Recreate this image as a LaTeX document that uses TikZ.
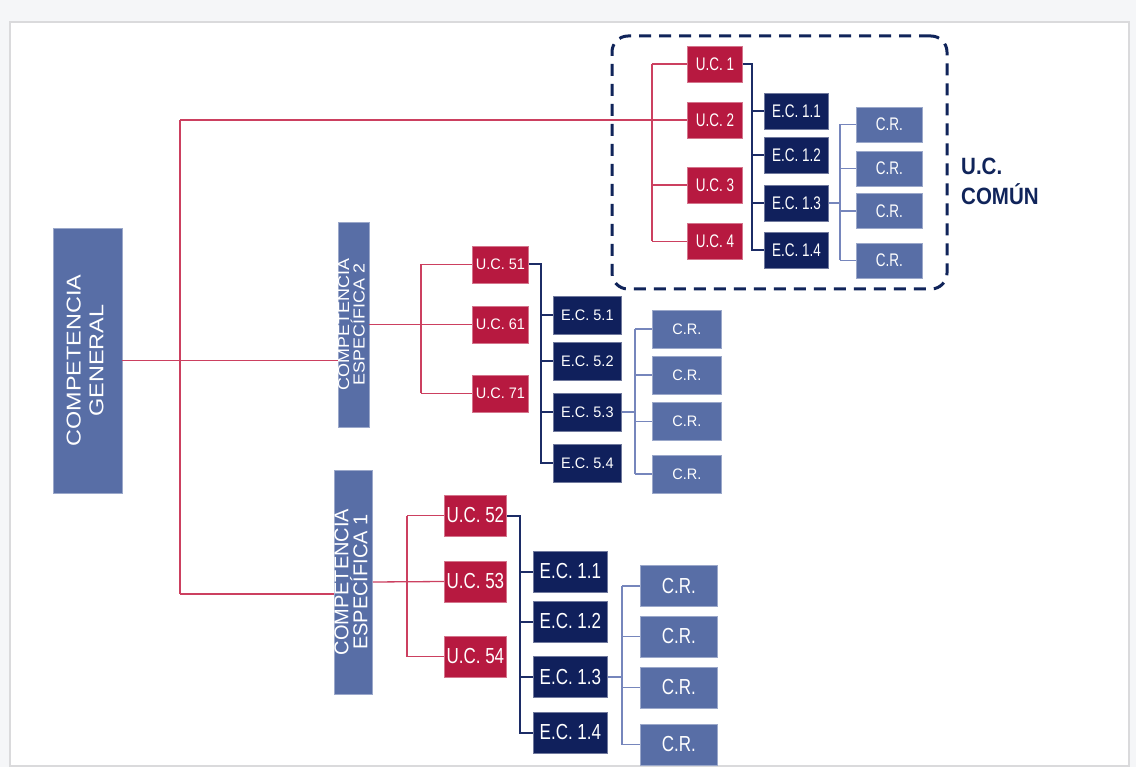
\documentclass[tikz,border=0pt]{standalone}
\usepackage{fontspec}
\setmainfont{Liberation Sans}
\usepackage{graphicx}
\usepackage{tikz}
\usetikzlibrary{positioning,calc}
\definecolor{ucred}{RGB}{183,25,64}
\definecolor{ecnavy}{RGB}{16,32,92}
\definecolor{crblue}{RGB}{88,110,166}
\definecolor{redln}{RGB}{204,64,96}
\definecolor{navyln}{RGB}{28,44,102}
\definecolor{lightln}{RGB}{118,134,188}
\definecolor{dashcol}{RGB}{16,36,90}
\definecolor{pagebg}{RGB}{245,246,248}
\definecolor{framecol}{RGB}{218,218,220}
% stretched labels
\newcommand{\txtv}[2]{\scalebox{1}[#1]{#2}}
\newcommand{\txth}[2]{\scalebox{#1}[1]{#2}}
\newcommand{\pairln}[2]{\begin{tabular}{@{}c@{}}#1\\#2\end{tabular}}

\begin{document}
\begin{tikzpicture}[x=1pt, y=-1pt,
  blk/.style={rectangle, fill=#1, draw=#1!60!white, line width=0.8pt,
              text=white, inner sep=0pt, align=center},
  uc/.style={blk=ucred, anchor=west},
  ec/.style={blk=ecnavy, anchor=west},
  cr/.style={blk=crblue, anchor=west},
  comp/.style={blk=crblue, rotate=90},
  topset/.style={font=\fontsize{13.5}{16}\selectfont, minimum height=36pt},
  midset/.style={font=\fontsize{14.5}{17}\selectfont, minimum height=37pt},
  lowset/.style={font=\fontsize{17}{19}\selectfont, minimum height=41pt},
  rl/.style={draw=redln, line width=1.3pt},
  nl/.style={draw=navyln, line width=2pt},
  ll/.style={draw=lightln, line width=1.5pt},
]
\useasboundingbox (0,0) rectangle (1136,767);
\fill[pagebg] (0,0) rectangle (1136,767);
\draw[framecol, line width=1.5pt, fill=white] (10,22) rectangle (1129,766);

\node[comp, minimum width=265pt, minimum height=69pt,
      font=\fontsize{20}{22.7}\selectfont] (cg) at (87.5,360.5)
      {\txth{1.17}{\pairln{COMPETENCIA}{GENERAL}}};

% U.C. comun
\foreach \n/\y/\t in {uc1/64/1, uc2/120/2, uc3/185/3, uc4/241.5/4}
  \node[uc, topset, minimum width=55pt] (\n) at (687,\y) {\txtv{1.35}{U.C. \t}};
\foreach \i/\y in {1/111, 2/155, 3/203, 4/250.5}
  \node[ec, topset, minimum width=64pt] (ec1\i) at (764,\y) {\txtv{1.35}{E.C. 1.\i}};
\foreach \i/\y in {1/124.5, 2/168.5, 3/211, 4/260.5}
  \node[cr, topset, minimum width=66pt, minimum height=35pt] (crt\i) at (856,\y) {\txtv{1.35}{C.R.}};

% competencia especifica 2
\node[comp, minimum width=205pt, minimum height=31pt,
      font=\fontsize{16}{14.5}\selectfont] (esp2) at (353.5,324.5)
      {\txth{1.12}{\pairln{COMPETENCIA}{ESPEC\smash{Í}FICA 2}}};
\foreach \n/\y/\t in {uc51/264.5/51, uc61/324.5/61, uc71/393.5/71}
  \node[uc, midset, minimum width=56pt] (\n) at (472,\y) {\txtv{1.05}{U.C. \t}};
\foreach \i/\y in {1/315, 2/361.5, 3/412, 4/463}
  \node[ec, midset, minimum width=68pt, minimum height=38pt] (ec5\i) at (553,\y) {\txtv{1.05}{E.C. 5.\i}};
\foreach \i/\y in {1/329, 2/375, 3/421.5, 4/474}
  \node[cr, midset, minimum width=69pt, minimum height=38pt] (crm\i) at (652,\y) {\txtv{1.05}{C.R.}};

% competencia especifica 1
\node[comp, minimum width=224pt, minimum height=35pt,
      font=\fontsize{20}{17}\selectfont] (esp1) at (353.5,582)
      {\pairln{COMPETENCIA}{ESPEC\smash{Í}FICA 1}};
\foreach \n/\y/\t in {uc52/515.5/52, uc53/581.5/53, uc54/656.5/54}
  \node[uc, lowset, minimum width=62pt] (\n) at (444,\y) {\txtv{1.28}{U.C. \t}};
\foreach \i/\y in {1/571.5, 2/621.5, 3/677, 4/732.5}
  \node[ec, lowset, minimum width=74pt] (bec\i) at (533,\y) {\txtv{1.28}{E.C. 1.\i}};
\foreach \i/\y in {1/586, 2/636.5, 3/687.5, 4/744.5}
  \node[cr, lowset, minimum width=77pt] (crb\i) at (640,\y) {\txtv{1.28}{C.R.}};

% spines
\coordinate (gtop) at (180,120);
\coordinate (gbot) at (180,594);
\coordinate (ts1) at (652,0);
\coordinate (ts2) at (752,0);
\coordinate (ts3) at (840,0);
\coordinate (ms1) at (421,0);
\coordinate (ms2) at (541,0);
\coordinate (ms3) at (635,0);
\coordinate (bs1) at (407,0);
\coordinate (bs2) at (520,0);
\coordinate (bs3) at (622,0);

% competencia general
\draw[rl] (cg.south) -- (esp2.north |- cg.south);
\draw[rl] (gtop) -- (gbot);
\draw[rl] (gtop) -- (uc2.west);
\draw[rl] (gbot) -- (esp1.north |- gbot);

% U.C. comun
\draw[rl] (uc1.west -| ts1) -- (uc4.west -| ts1);
\foreach \n in {uc1,uc3,uc4} \draw[rl] (\n.west -| ts1) -- (\n.west);
\draw[nl] (uc1.east) -| (ec14.west -| ts2) -- (ec14.west);
\foreach \i in {1,2,3} \draw[nl] (ec1\i.west -| ts2) -- (ec1\i.west);
\draw[ll] (ec13.east) -- (ec13.east -| ts3);
\draw[ll] (crt1.west -| ts3) -- (crt4.west -| ts3);
\foreach \i in {1,...,4} \draw[ll] (crt\i.west -| ts3) -- (crt\i.west);

% especifica 2
\draw[rl] (esp2.south) -- (uc61.west);
\draw[rl] (uc51.west -| ms1) -- (uc71.west -| ms1);
\foreach \n in {uc51,uc71} \draw[rl] (\n.west -| ms1) -- (\n.west);
\draw[nl] (uc51.east) -| (ec54.west -| ms2) -- (ec54.west);
\foreach \i in {1,2,3} \draw[nl] (ec5\i.west -| ms2) -- (ec5\i.west);
\draw[ll] (ec53.east) -- (ec53.east -| ms3);
\draw[ll] (crm1.west -| ms3) -- (crm4.west -| ms3);
\foreach \i in {1,...,4} \draw[ll] (crm\i.west -| ms3) -- (crm\i.west);

% especifica 1
\draw[rl] (esp1.south) -- (uc53.west);
\draw[rl] (uc52.west -| bs1) -- (uc54.west -| bs1);
\foreach \n in {uc52,uc54} \draw[rl] (\n.west -| bs1) -- (\n.west);
\draw[nl] (uc52.east) -| (bec4.west -| bs2) -- (bec4.west);
\foreach \i in {1,2,3} \draw[nl] (bec\i.west -| bs2) -- (bec\i.west);
\draw[ll] (bec3.east) -- (bec3.east -| bs3);
\draw[ll] (crb1.west -| bs3) -- (crb4.west -| bs3);
\foreach \i in {1,...,4} \draw[ll] (crb\i.west -| bs3) -- (crb\i.west);

% dashed frame
\node[draw=dashcol, line width=3pt, dash pattern=on 12pt off 8pt,
      rounded corners=16pt, minimum width=335pt, minimum height=253pt] (comun) at (779.5,162.5) {};
\node[anchor=base west, inner sep=0pt, text=dashcol,
      font=\bfseries\fontsize{20.5}{26}\selectfont] (comunlbl) at (961,175)
      {\txtv{1.15}{\begin{tabular}[t]{@{}l@{}}U.C.\\COMÚN\end{tabular}}};
\end{tikzpicture}
\end{document}
